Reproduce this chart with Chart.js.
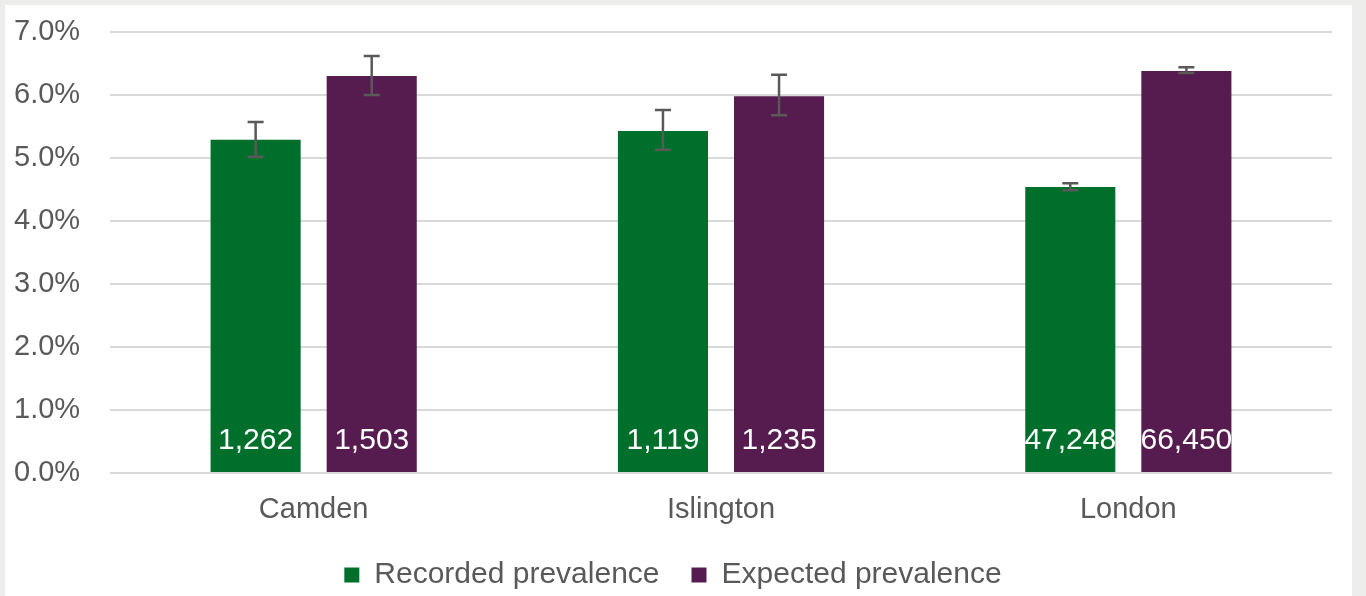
<!DOCTYPE html>
<html>
<head>
<meta charset="utf-8">
<script src="https://cdn.jsdelivr.net/npm/chart.js@4"></script>
<style>
  html, body { margin: 0; padding: 0; background: #ededeb; }
  #wrap { position: absolute; left: 5px; top: 5px; width: 1347px; height: 591px; background: #fff; }
</style>
</head>
<body>
<div id="wrap"><canvas id="prevalence"></canvas></div>
<script>
let areas = ["Camden", "Islington", "London"];
let recorded = [5.29, 5.43, 4.54];
let recordedLow = [5.02, 5.13, 4.49];
let recordedHigh = [5.57, 5.76, 4.60];
let expected = [6.30, 5.98, 6.38];
let expectedLow = [6.00, 5.68, 6.35];
let expectedHigh = [6.62, 6.32, 6.44];
let recordedCounts = ["1,262", "1,119", "47,248"];
let expectedCounts = ["1,503", "1,235", "66,450"];

let font = "'Liberation Sans', Arial, sans-serif";

// error whiskers, drawn from the y scale
let errorBars = {
  id: "errorBars",
  afterDatasetsDraw(chart) {
    let ctx = chart.ctx;
    let y = chart.scales.y;
    ctx.save();
    ctx.strokeStyle = "#595959";
    ctx.lineWidth = 2.5;
    chart.data.datasets.forEach((ds, i) => {
      let meta = chart.getDatasetMeta(i);
      meta.data.forEach((bar, j) => {
        let top = y.getPixelForValue(ds.errHigh[j]);
        let bottom = y.getPixelForValue(ds.errLow[j]);
        ctx.beginPath();
        ctx.moveTo(bar.x, top);
        ctx.lineTo(bar.x, bottom);
        ctx.moveTo(bar.x - 8, top);
        ctx.lineTo(bar.x + 8, top);
        ctx.moveTo(bar.x - 8, bottom);
        ctx.lineTo(bar.x + 8, bottom);
        ctx.stroke();
      });
    });
    ctx.restore();
  },
};

// patient counts near the bar base
let countLabels = {
  id: "countLabels",
  afterDatasetsDraw(chart) {
    let ctx = chart.ctx;
    let base = chart.scales.y.getPixelForValue(0);
    ctx.save();
    ctx.fillStyle = "#ffffff";
    ctx.font = "30px " + font;
    ctx.textAlign = "center";
    ctx.textBaseline = "middle";
    chart.data.datasets.forEach((ds, i) => {
      chart.getDatasetMeta(i).data.forEach((bar, j) => {
        ctx.fillText(ds.counts[j], bar.x, base - 32);
      });
    });
    ctx.restore();
  },
};

let canvas = document.querySelector("#prevalence");
let ctx = canvas.getContext("2d");

let chart = new Chart(ctx, {
  type: "bar",
  data: {
    labels: areas,
    datasets: [
      {
        label: "Recorded prevalence",
        data: recorded,
        errLow: recordedLow,
        errHigh: recordedHigh,
        counts: recordedCounts,
        backgroundColor: "#006f2b",
        categoryPercentage: 0.57,
        barPercentage: 0.776,
      },
      {
        label: "Expected prevalence",
        data: expected,
        errLow: expectedLow,
        errHigh: expectedHigh,
        counts: expectedCounts,
        backgroundColor: "#561c4f",
        categoryPercentage: 0.57,
        barPercentage: 0.776,
      },
    ],
  },
  options: {
    responsive: true,
    maintainAspectRatio: false,
    animation: false,
    layout: {
      padding: { top: 27, right: 20, left: 9, bottom: 0 },
    },
    plugins: {
      legend: {
        position: "bottom",
        maxHeight: 68,
        labels: {
          color: "#595959",
          boxWidth: 15,
          boxHeight: 15,
          padding: 32,
          font: { family: font, size: 30 },
        },
      },
      tooltip: { enabled: false },
    },
    scales: {
      x: {
        afterFit: (scale) => {
          scale.height = 55;
        },
        grid: { display: false, drawTicks: false },
        border: { display: false },
        ticks: {
          color: "#595959",
          padding: 20,
          font: { family: font, size: 29 },
        },
      },
      y: {
        min: 0,
        max: 7,
        afterFit: (scale) => {
          scale.width = 96;
        },
        grid: {
          color: "#d9d9d9",
          lineWidth: 2,
          drawTicks: false,
        },
        border: { display: false },
        ticks: {
          stepSize: 1,
          color: "#595959",
          padding: 0,
          crossAlign: "far",
          font: { family: font, size: 29 },
          callback: (value) => value.toFixed(1) + "%",
        },
      },
    },
  },
  plugins: [errorBars, countLabels],
});
</script>
</body>
</html>
